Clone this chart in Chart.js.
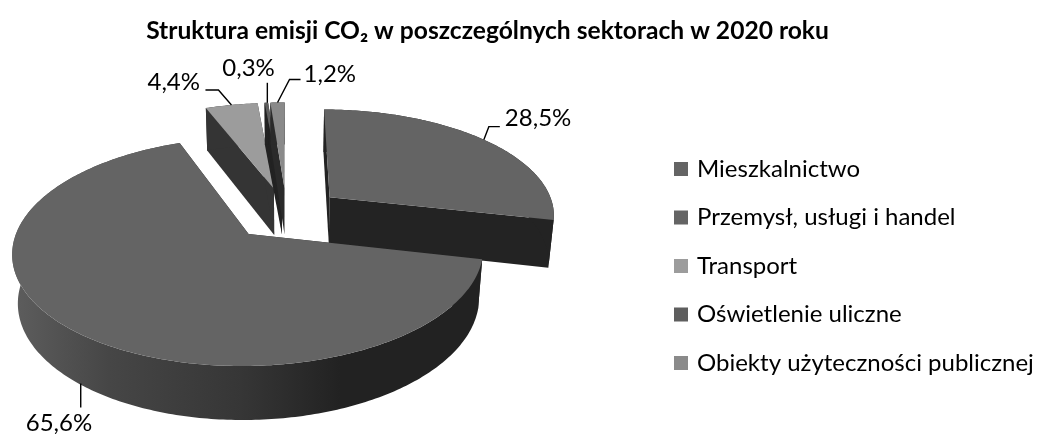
<!DOCTYPE html>
<html>
<head>
<meta charset="utf-8">
<style>html,body{margin:0;padding:0;background:#fff}#w{position:relative;width:1041px;height:434px}</style>
<script src="https://cdn.jsdelivr.net/npm/chart.js@4/dist/chart.umd.js"></script>
</head>
<body>
<div id="w"><canvas id="c" width="1041" height="434"></canvas></div>
<script>
const titleText = 'Struktura emisji CO₂ w poszczególnych sektorach w 2020 roku';
const categories = ['Mieszkalnictwo', 'Przemysł, usługi i handel', 'Transport', 'Oświetlenie uliczne', 'Obiekty użyteczności publicznej'];
const shares = [28.5, 65.6, 4.4, 0.3, 1.2];
const topColors = ['#646464', '#646464', '#9c9c9c', '#5e5e5e', '#8a8a8a'];
const sideColors = ['#232323', '#232323', '#343434', '#222222', '#2a2a2a'];

// camera of the 3D pie
const cam = {x: 286.5, y: 213.4, a: 226, b: 105.4, h: 48.5, c: 0.15, e: 0.02, explode: 0.25};
function project(u, v, z) {
  const w = 1 - cam.c * v + cam.e * z;
  return [cam.x + u * cam.a / w, cam.y + (v * cam.b + z * cam.h) / w];
}
function sliceGeom(arc) {
  const {startAngle: s, endAngle: t} = arc.getProps(['startAngle', 'endAngle']);
  const m = (s + t) / 2;
  return {s, t, m, ou: Math.cos(m) * cam.explode, ov: Math.sin(m) * cam.explode};
}
function poly(ctx, pts, fill) {
  ctx.beginPath();
  pts.forEach((p, i) => i ? ctx.lineTo(p[0], p[1]) : ctx.moveTo(p[0], p[1]));
  ctx.closePath();
  ctx.fillStyle = fill;
  ctx.fill();
}
const canvas = document.getElementById('c');
const g2d = canvas.getContext('2d');
const bigWall = g2d.createLinearGradient(10, 0, 340, 0);
bigWall.addColorStop(0, '#5e5e5e');
bigWall.addColorStop(0.3, '#464646');
bigWall.addColorStop(0.7, '#363636');
bigWall.addColorStop(1, '#222222');

Chart.ArcElement.prototype.draw = function (ctx) {
  const g = sliceGeom(this);
  const i = this.$context.dataIndex;
  const steps = Math.max(2, Math.ceil((g.t - g.s) / 0.015));
  const rim = z => {
    const r = [];
    for (let k = 0; k <= steps; k++) {
      const a = g.s + (g.t - g.s) * k / steps;
      r.push(project(g.ou + Math.cos(a), g.ov + Math.sin(a), z));
    }
    return r;
  };
  const top = rim(0), bot = rim(1);
  const c0 = project(g.ou, g.ov, 0), c1 = project(g.ou, g.ov, 1);
  const side = sideColors[i];
  ctx.save();
  poly(ctx, [c0, top[0], bot[0], c1], side);
  poly(ctx, [c0, top[steps], bot[steps], c1], side);
  poly(ctx, top.concat(bot.slice().reverse()), i === 1 ? bigWall : side);
  poly(ctx, [c0].concat(top), this.options.backgroundColor);
  ctx.restore();
};

// callouts, relative to the rim point at each slice's middle angle
const calloutZ = [0, 1, 0, 0, 0];
const leaderPaths = [
  [[0, 0], [5, -13], [16, -13]],
  [[4, 1], [4, 25]],
  [[0, 0], [-13, -15], [-26, -15]],
  [[1, 0], [1, -20]],
  [[0, 0], [12, -23], [23, -23]]
];
const textOffsets = [[21, -21], [-51, 41], [-84, -23], [-44, -35], [26, -28]];

const pie3d = {
  id: 'pie3d',
  afterLayout(chart) {
    const t = chart.titleBlock;
    t.left = 0; t.right = 975;
    const l = chart.legend, p = l.options.labels.padding;
    l.left = 677 - p; l.top = 157 - p; l.right = 1041; l.bottom = 434; l.width = l.right - l.left;
  },
  afterDatasetsDraw(chart) {
    const ctx = chart.ctx;
    const arcs = chart.getDatasetMeta(0).data;
    ctx.save();
    ctx.strokeStyle = '#000';
    ctx.lineWidth = 1.4;
    ctx.fillStyle = '#000';
    ctx.font = '24px Lato';
    ctx.textAlign = 'left';
    ctx.textBaseline = 'middle';
    arcs.forEach((arc, i) => {
      const g = sliceGeom(arc);
      const a = project(g.ou + Math.cos(g.m), g.ov + Math.sin(g.m), calloutZ[i]);
      ctx.beginPath();
      leaderPaths[i].forEach((o, k) => k ? ctx.lineTo(a[0] + o[0], a[1] + o[1]) : ctx.moveTo(a[0] + o[0], a[1] + o[1]));
      ctx.stroke();
      ctx.fillText(shares[i].toFixed(1).replace('.', ',') + '%', a[0] + textOffsets[i][0], a[1] + textOffsets[i][1]);
    });
    ctx.restore();
  }
};

new Chart(canvas, {
  type: 'pie',
  data: {
    labels: categories,
    datasets: [{data: shares, backgroundColor: topColors, borderWidth: 0}]
  },
  options: {
    responsive: false,
    animation: false,
    plugins: {
      tooltip: {enabled: false},
      title: {display: true, text: titleText, color: '#000', font: {family: 'Lato', size: 24.6, weight: 'bold'}, padding: {top: 16, bottom: 10}},
      legend: {
        position: 'right', align: 'start',
        labels: {color: '#000', usePointStyle: true, pointStyle: 'rect', boxWidth: 8, boxHeight: 14, padding: 24.5, font: {family: 'Lato', size: 24}}
      }
    }
  },
  plugins: [pie3d]
});
</script>
</body>
</html>
